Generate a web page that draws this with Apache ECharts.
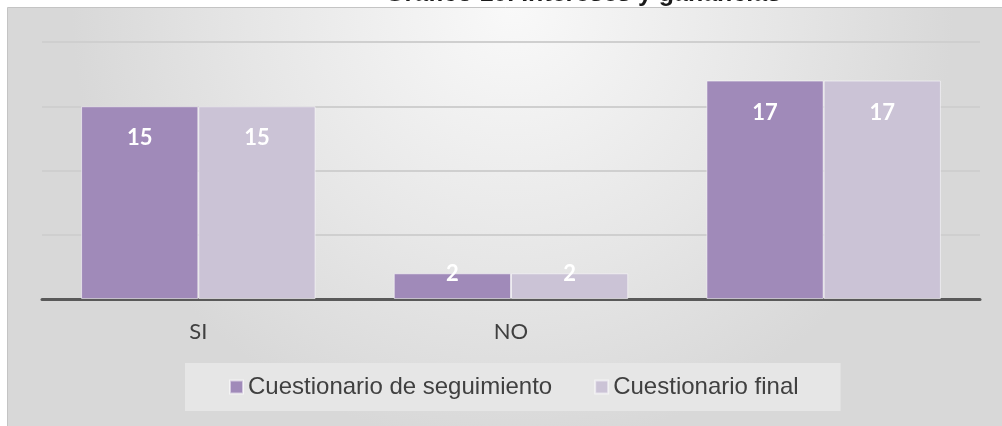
<!DOCTYPE html>
<html>
<head>
    <meta charset="utf-8" />
    <title>Gráfico 10. Intereses y ganancias</title>
    <script type="text/javascript" src="https://cdn.jsdelivr.net/npm/echarts@6/dist/echarts.min.js"></script>
    <style>
        html, body { margin: 0; padding: 0; background: #ffffff; }
        #main { width: 1002px; height: 426px; }
    </style>
</head>
<body>
    <div id="main"></div>
    <script type="text/javascript">
        // data
        var categories = ['SI', 'NO', ''];
        var seguimiento = [15, 2, 17];
        var final = [15, 2, 17];
        var seriesNames = ['Cuestionario de seguimiento', 'Cuestionario final'];
        var titleText = 'Gráfico 10. Intereses y ganancias';

        // short bars get their label pushed up over the top edge, like Excel does
        function withLabels(values) {
            return values.map(function (v) {
                return { value: v, label: { distance: v < 5 ? -10 : 21 } };
            });
        }

        var labelStyle = {
            show: true,
            position: 'insideTop',
            color: '#ffffff',
            fontFamily: 'Lato',
            fontWeight: 'bold',
            fontSize: 22
        };

        var option = {
            animation: false,
            backgroundColor: '#ffffff',
            graphic: [
                {
                    type: 'rect',
                    z: -10,
                    shape: { x: 7.5, y: 7.5, width: 1010, height: 440 },
                    style: {
                        stroke: '#c4c4c4',
                        lineWidth: 1,
                        fill: {
                            type: 'radial', x: 0.5, y: 0, r: 1.0,
                            colorStops: [
                                { offset: 0, color: '#f9f9f9' },
                                { offset: 0.6, color: '#e6e6e6' },
                                { offset: 1, color: '#d8d8d8' }
                            ]
                        }
                    }
                },
                {
                    type: 'text',
                    left: 385,
                    top: -18,
                    style: {
                        text: titleText,
                        font: 'bold 25px "Liberation Sans", Arial',
                        fill: '#1a1a1a'
                    }
                }
            ],
            legend: {
                left: 185,
                top: 363,
                icon: 'rect',
                itemWidth: 13,
                itemHeight: 13,
                itemGap: 42,
                padding: [12, 42, 12, 44],
                backgroundColor: '#e6e6e6',
                textStyle: { fontFamily: '"Liberation Sans", Arial', fontSize: 24, color: '#404040' },
                data: seriesNames
            },
            grid: { left: 42, right: 22, top: 42, bottom: 127 },
            xAxis: {
                type: 'category',
                data: categories,
                axisTick: { show: false },
                axisLine: { lineStyle: { color: '#595959', width: 3 } },
                axisLabel: { margin: 22, fontFamily: 'Lato', fontSize: 22, color: '#404040' }
            },
            yAxis: {
                type: 'value',
                min: 0,
                max: 20,
                interval: 5,
                axisLabel: { show: false },
                axisLine: { show: false },
                axisTick: { show: false },
                splitLine: { lineStyle: { color: '#cfcfcf', width: 2 } }
            },
            series: [
                {
                    name: seriesNames[0],
                    type: 'bar',
                    barGap: '0%',
                    barCategoryGap: '25%',
                    data: withLabels(seguimiento),
                    itemStyle: { color: '#a08ab9', borderColor: 'rgba(255,255,255,0.55)', borderWidth: 1 },
                    label: labelStyle
                },
                {
                    name: seriesNames[1],
                    type: 'bar',
                    barGap: '0%',
                    barCategoryGap: '25%',
                    data: withLabels(final),
                    itemStyle: { color: '#cbc3d6', borderColor: 'rgba(255,255,255,0.55)', borderWidth: 1 },
                    label: labelStyle
                }
            ]
        };

        var myChart = echarts.init(document.getElementById('main'));
        myChart.setOption(option);
    </script>
</body>
</html>
